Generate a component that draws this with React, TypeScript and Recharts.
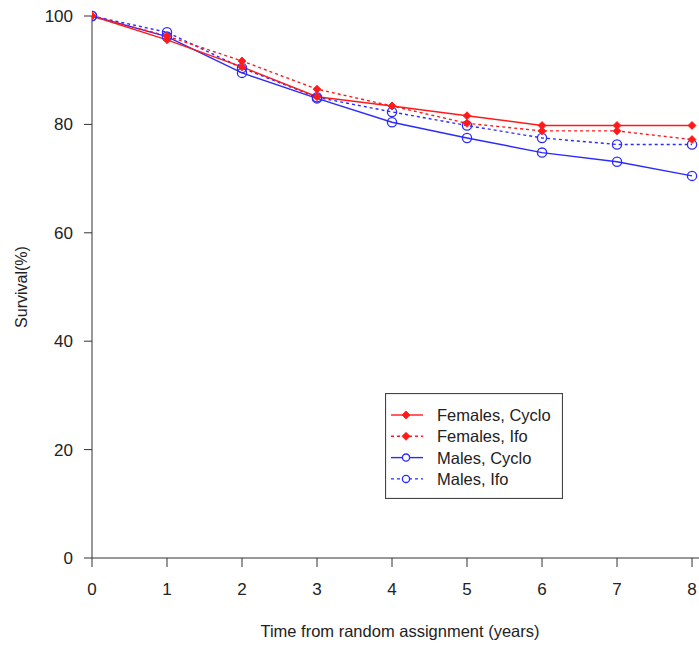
import React from 'react';
import { LineChart, Line, XAxis, YAxis } from 'recharts';

const years = [0, 1, 2, 3, 4, 5, 6, 7, 8];
const femalesCyclo = [100, 95.6, 90.6, 85.1, 83.4, 81.6, 79.8, 79.8, 79.8];
const femalesIfo = [100, 96.3, 91.7, 86.5, 83.4, 80.2, 78.8, 78.8, 77.2];
const malesCyclo = [100, 96.2, 89.5, 84.8, 80.4, 77.5, 74.8, 73.1, 70.5];
const malesIfo = [100, 97.0, 90.4, 85.0, 82.3, 79.8, 77.5, 76.3, 76.3];
const xTicks = [0, 1, 2, 3, 4, 5, 6, 7, 8];
const yTicks = [0, 20, 40, 60, 80, 100];

const RED = '#ff1a1a';
const BLUE = '#2b2bff';
const FONT = '"Liberation Sans", Arial, sans-serif';

const data = years.map((t, i) => ({
  t,
  fc: femalesCyclo[i],
  fi: femalesIfo[i],
  mc: malesCyclo[i],
  mi: malesIfo[i],
}));

const Diamond = (props: any) => {
  const { cx, cy, stroke } = props;
  if (cx == null || cy == null) return null;
  const r = 4;
  return <path d={`M${cx},${cy - r}L${cx + r},${cy}L${cx},${cy + r}L${cx - r},${cy}Z`} fill={stroke} stroke={stroke} strokeWidth={0.8} />;
};

const Ring = (props: any) => {
  const { cx, cy, stroke } = props;
  if (cx == null || cy == null) return null;
  return <circle cx={cx} cy={cy} r={4.6} fill="none" stroke={stroke} strokeWidth={1.3} />;
};

const legendItems = [
  { label: 'Females, Cyclo', color: RED, dash: undefined, kind: 'd' },
  { label: 'Females, Ifo', color: RED, dash: '3 3', kind: 'd' },
  { label: 'Males, Cyclo', color: BLUE, dash: undefined, kind: 'c' },
  { label: 'Males, Ifo', color: BLUE, dash: '3 3', kind: 'c' },
];

function LegendBox() {
  return (
    <svg width={178} height={106} style={{ display: 'block' }}>
      <rect x={0.5} y={0.5} width={177} height={105} fill="#fff" stroke="#444" strokeWidth={1.2} />
      {legendItems.map((it, i) => {
        const y = 22 + i * 21.3;
        return (
          <g key={it.label}>
            <line x1={6} x2={38} y1={y} y2={y} stroke={it.color} strokeWidth={1.4} strokeDasharray={it.dash} />
            {it.kind === 'd' ? (
              <Diamond cx={21} cy={y} stroke={it.color} />
            ) : (
              <circle cx={21} cy={y} r={3.6} fill="#fff" stroke={it.color} strokeWidth={1.3} />
            )}
            <text x={52} y={y} dy="0.36em" fontSize={16.5} fill="#222" fontFamily={FONT}>
              {it.label}
            </text>
          </g>
        );
      })}
    </svg>
  );
}

export default function App() {
  return (
    <div style={{ position: 'absolute', left: 0, top: 0, width: 699, height: 645, background: '#fff' }}>
      <LineChart width={699} height={645} data={data} margin={{ top: 16, right: 0, left: 0, bottom: 37 }}>
        <XAxis
          dataKey="t"
          type="number"
          domain={[0, 8.093]}
          ticks={xTicks}
          allowDataOverflow
          tickSize={9}
          tickMargin={16}
          stroke="#333"
          tick={{ fill: '#222', fontSize: 17, fontFamily: FONT }}
          height={50}
          label={{
            content: () => (
              <text x={400} y={633} textAnchor="middle" dominantBaseline="middle" fontSize={16.5} fill="#222" fontFamily={FONT}>
                Time from random assignment (years)
              </text>
            ),
          }}
        />
        <YAxis
          type="number"
          domain={[0, 100]}
          ticks={yTicks}
          width={92}
          tickSize={8}
          tickMargin={11}
          stroke="#333"
          tick={{ fill: '#222', fontSize: 17, fontFamily: FONT }}
          label={{
            content: () => (
              <text
                x={23}
                y={287}
                textAnchor="middle"
                dominantBaseline="middle"
                transform="rotate(-90 23 287)"
                fontSize={16}
                fill="#222"
                fontFamily={FONT}
              >
                Survival(%)
              </text>
            ),
          }}
        />
        <Line dataKey="mi" stroke={BLUE} strokeWidth={1.4} strokeDasharray="3 3" dot={<Ring />} isAnimationActive={false} />
        <Line dataKey="mc" stroke={BLUE} strokeWidth={1.4} dot={<Ring />} isAnimationActive={false} />
        <Line dataKey="fi" stroke={RED} strokeWidth={1.4} strokeDasharray="3 3" dot={<Diamond />} isAnimationActive={false} />
        <Line dataKey="fc" stroke={RED} strokeWidth={1.4} dot={<Diamond />} isAnimationActive={false} />
      </LineChart>
      <div style={{ position: 'absolute', left: 385, top: 393 }}>
        <LegendBox />
      </div>
    </div>
  );
}
